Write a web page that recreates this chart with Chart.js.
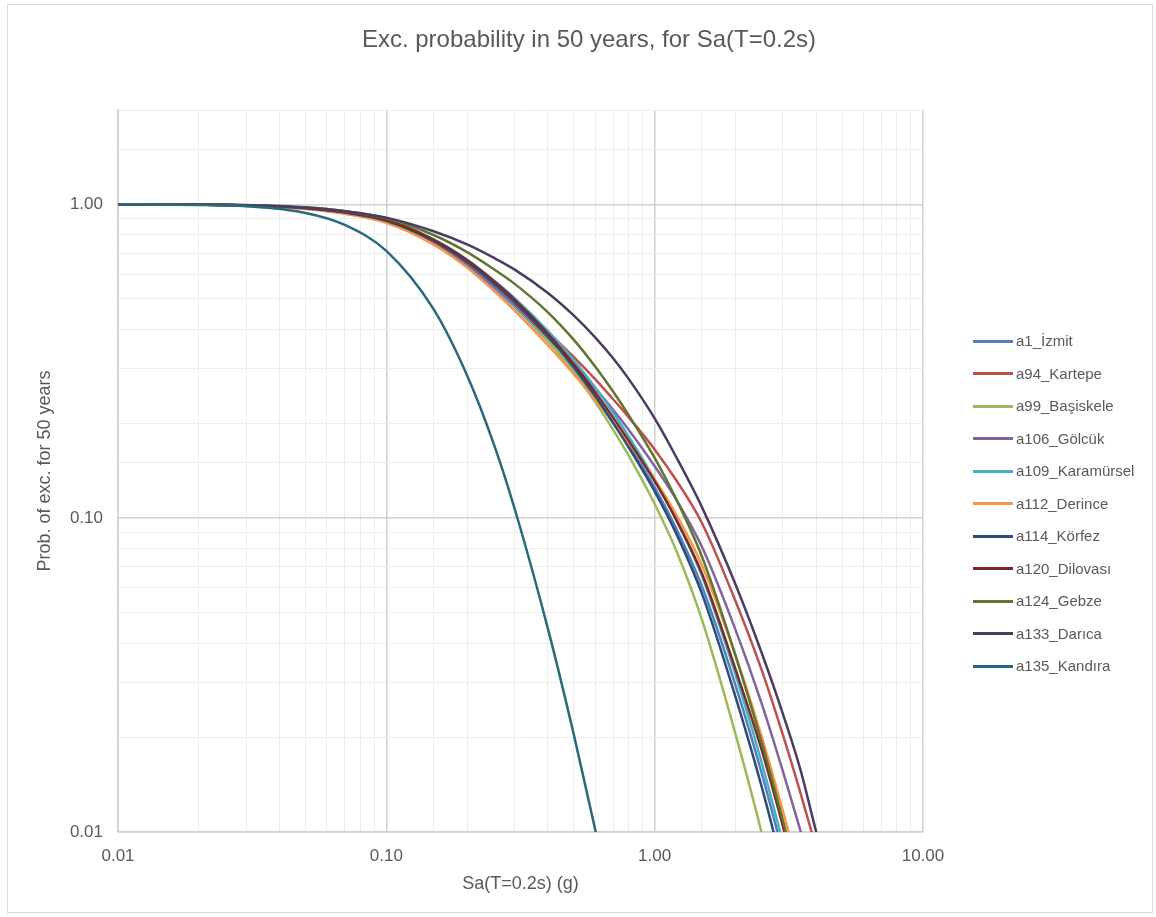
<!DOCTYPE html>
<html>
<head>
<meta charset="utf-8">
<title>Exc. probability in 50 years, for Sa(T=0.2s)</title>
<script src="https://cdn.jsdelivr.net/npm/chart.js@4.4.1/dist/chart.umd.min.js"></script>
<style>
    html, body { margin: 0; padding: 0; background: #fff; }
    #page { position: relative; width: 1156px; height: 917px; overflow: hidden; font-family: "Liberation Sans", Arial, sans-serif; }
    #frame { position: absolute; left: 7px; top: 4px; right: 3px; bottom: 4px; border: 1px solid #d9d9d9; }
    #box { position: absolute; left: 0; top: 0; width: 1156px; height: 917px; }
    .item { position: absolute; left: 973px; height: 20px; width: 180px; white-space: nowrap; }
    .item i { position: absolute; left: 0; top: 8.5px; width: 40px; height: 3px; }
    .item span { position: absolute; left: 43px; top: 0; line-height: 20px; font-size: 15px; color: #595959; }
</style>
</head>
<body>
<div id="page">
    <div id="frame"></div>
    <div id="box"><canvas id="hazardChart"></canvas></div>
    <div id="legend"></div>
</div>
<script>
// spectral acceleration Sa(T=0.2s) in g
const sa = [0.01, 0.02, 0.03, 0.05, 0.07, 0.1, 0.15, 0.2, 0.25, 0.3, 0.4, 0.5, 0.6, 0.7, 0.8, 1.0, 1.2, 1.5, 2.0, 2.5, 3.0, 3.5, 4.0, 4.5];

const names = ['a1_İzmit', 'a94_Kartepe', 'a99_Başiskele', 'a106_Gölcük', 'a109_Karamürsel', 'a112_Derince',
               'a114_Körfez', 'a120_Dilovası', 'a124_Gebze', 'a133_Darıca', 'a135_Kandıra'];
const colors = ['#4F81BD', '#C0504D', '#9BBB59', '#8064A2', '#4BACC6', '#F79646',
                '#2C4D75', '#772C2A', '#5F7530', '#4D3B62', '#276A7C'];

// probability of exceedance in 50 years, one array per site
const izmit      = [1.0, 0.998, 0.9924, 0.9699, 0.9371, 0.8797, 0.7526, 0.6401, 0.5457, 0.4732, 0.3673, 0.2946, 0.2417, 0.2014, 0.1708, 0.1255, 0.0932, 0.0607, 0.0294, 0.0155, 0.00861, 0.0051, 0.00317, 0.00203];
const kartepe    = [1.0, 0.9986, 0.9941, 0.9749, 0.9456, 0.8923, 0.7703, 0.6593, 0.5666, 0.4949, 0.3923, 0.3263, 0.2776, 0.2395, 0.2099, 0.1657, 0.1326, 0.0966, 0.0545, 0.033, 0.0205, 0.01325, 0.00889, 0.00611];
const basiskele  = [1.0, 0.9983, 0.9932, 0.972, 0.9407, 0.8849, 0.7599, 0.6479, 0.5534, 0.4787, 0.3689, 0.2918, 0.2348, 0.1916, 0.1582, 0.111, 0.0793, 0.0475, 0.02055, 0.01001, 0.00519, 0.00288, 0.00171, 0.00104];
const golcuk     = [1.0, 0.9981, 0.9928, 0.9709, 0.9389, 0.8823, 0.7563, 0.6459, 0.5534, 0.4805, 0.3768, 0.3093, 0.2598, 0.2217, 0.1914, 0.1465, 0.1152, 0.0811, 0.04415, 0.02578, 0.01568, 0.01005, 0.0067, 0.00458];
const karamursel = [1.0, 0.9986, 0.9941, 0.9749, 0.9456, 0.8923, 0.7737, 0.6667, 0.5758, 0.5036, 0.3954, 0.3185, 0.261, 0.2169, 0.1824, 0.133, 0.0993, 0.0655, 0.0318, 0.01672, 0.00926, 0.00545, 0.00337, 0.00216];
const derince    = [0.9999, 0.9977, 0.9916, 0.9676, 0.9333, 0.8742, 0.7451, 0.63, 0.5338, 0.4601, 0.3561, 0.2877, 0.2383, 0.2024, 0.1741, 0.133, 0.1031, 0.0708, 0.03656, 0.02026, 0.01173, 0.00718, 0.00459, 0.00302];
const korfez     = [1.0, 0.9984, 0.9935, 0.973, 0.9424, 0.8875, 0.7652, 0.6555, 0.5629, 0.4895, 0.3799, 0.3026, 0.2451, 0.2014, 0.1683, 0.1218, 0.0898, 0.0575, 0.02699, 0.01402, 0.00767, 0.00447, 0.00274, 0.00174];
const dilovasi   = [1.0, 0.9986, 0.9941, 0.9749, 0.9456, 0.8923, 0.773, 0.6649, 0.5721, 0.4984, 0.3877, 0.3093, 0.252, 0.2092, 0.1767, 0.1312, 0.0993, 0.0667, 0.03303, 0.01836, 0.0105, 0.00635, 0.00402, 0.00263];
const gebze      = [1.0, 0.999, 0.9955, 0.9791, 0.953, 0.9037, 0.7991, 0.7046, 0.6238, 0.5594, 0.4532, 0.37, 0.3043, 0.2534, 0.2132, 0.1556, 0.1156, 0.0755, 0.03656, 0.0194, 0.01094, 0.00653, 0.00409, 0.00265];
const darica     = [1.0, 0.999, 0.995, 0.978, 0.952, 0.908, 0.8215, 0.7456, 0.6777, 0.6208, 0.5219, 0.442, 0.377, 0.3233, 0.278, 0.208, 0.1573, 0.1085, 0.0616, 0.0374, 0.0239, 0.0157, 0.01, 0.0069];
const kandira    = [0.9998, 0.9969, 0.9869, 0.9398, 0.861, 0.711, 0.4636, 0.2851, 0.1749, 0.108, 0.0445, 0.0204, 0.0102, 0.0054, null, null, null, null, null, null, null, null, null, null];

const series = [izmit, kartepe, basiskele, golcuk, karamursel, derince, korfez, dilovasi, gebze, darica, kandira];

const FONT = "'Liberation Sans', Arial, sans-serif";
const TEXT = '#595959';
const MAJOR = '#d0d0d0';
const MINOR = '#ededed';

function isDecade(v) {
    const l = Math.log10(v);
    return Math.abs(l - Math.round(l)) < 1e-6;
}
const decadeLabel = (v) => isDecade(v) ? Number(v).toFixed(2) : '';
const gridColor = (ctx) => (ctx.tick && isDecade(ctx.tick.value)) ? MAJOR : MINOR;
const gridWidth = (ctx) => (ctx.tick && isDecade(ctx.tick.value)) ? 1.5 : 1;

const datasets = names.map((name, i) => ({
    label: name,
    data: sa.map((x, j) => ({ x: x, y: series[i][j] })),
    borderColor: colors[i],
    backgroundColor: colors[i],
    borderWidth: 2.5,
    pointRadius: 0,
    showLine: true,
    cubicInterpolationMode: 'monotone',
    order: names.length - i
}));

new Chart(document.getElementById('hazardChart'), {
    type: 'scatter',
    data: { datasets: datasets },
    options: {
        responsive: true,
        maintainAspectRatio: false,
        animation: false,
        layout: { padding: { left: 22, right: 0, top: 0, bottom: 0 } },
        plugins: {
            legend: { display: false },
            tooltip: { enabled: false },
            title: {
                display: true,
                text: 'Exc. probability in 50 years, for Sa(T=0.2s)',
                color: TEXT,
                font: { family: FONT, size: 24, weight: 'normal' },
                padding: { top: 25.6, bottom: 55.6 }
            }
        },
        scales: {
            x: {
                type: 'logarithmic',
                position: 'bottom',
                min: 0.01,
                max: 10,
                grid: { color: gridColor, lineWidth: gridWidth, drawTicks: false },
                border: { color: MAJOR, width: 1.5 },
                ticks: { callback: decadeLabel, autoSkip: false, maxRotation: 0, padding: 14, color: TEXT, font: { family: FONT, size: 17 } },
                title: { display: true, text: 'Sa(T=0.2s) (g)', color: TEXT, font: { family: FONT, size: 18 }, padding: { top: 0, bottom: 22 } },
                afterFit: (s) => { s.height = 85; }
            },
            y: {
                type: 'logarithmic',
                position: 'left',
                min: 0.01,
                max: 2,
                grid: { color: gridColor, lineWidth: gridWidth, drawTicks: false },
                border: { color: MAJOR, width: 1.5 },
                ticks: { callback: decadeLabel, autoSkip: false, padding: 15, color: TEXT, font: { family: FONT, size: 17 } },
                title: { display: true, text: 'Prob. of exc. for 50 years', color: TEXT, font: { family: FONT, size: 18 }, padding: { top: 12, bottom: 0 } },
                afterFit: (s) => { s.width = 96; }
            },
            gap: {
                type: 'linear',
                position: 'right',
                grid: { display: false },
                ticks: { display: false },
                border: { display: false },
                afterFit: (s) => { s.width = 233; }
            }
        }
    }
});

// legend on the right
const legend = document.getElementById('legend');
names.forEach((name, i) => {
    const item = document.createElement('div');
    item.className = 'item';
    item.style.top = (331 + 32.5 * i) + 'px';
    item.innerHTML = `<i style="background:${colors[i]}"></i><span>${name}</span>`;
    legend.appendChild(item);
});
</script>
</body>
</html>
